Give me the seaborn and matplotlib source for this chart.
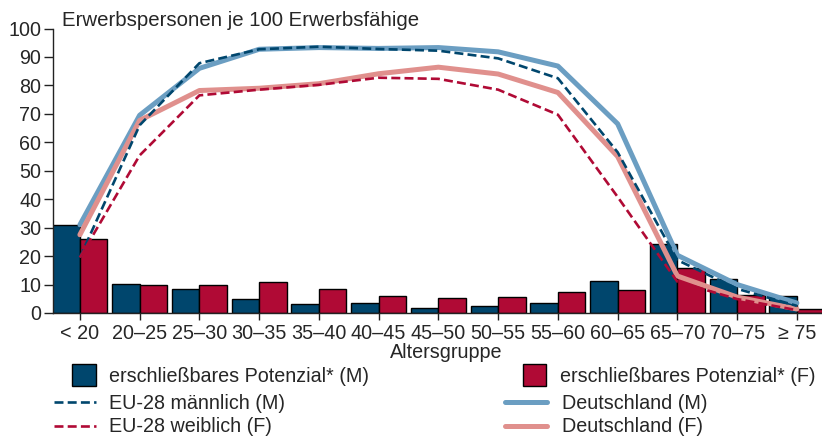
import numpy as np
import pandas as pd
import matplotlib
matplotlib.use("Agg")
import matplotlib.pyplot as plt
import seaborn as sns
from matplotlib import font_manager
from matplotlib.patches import Patch
from matplotlib.lines import Line2D

# ---------------- data ----------------
categories = ["< 20", "20–25", "25–30", "30–35", "35–40", "40–45", "45–50",
              "50–55", "55–60", "60–65", "65–70", "70–75", "≥ 75"]
potenzial_m = [31.0, 10.3, 8.5, 4.9, 3.2, 3.5, 1.9, 2.3, 3.5, 11.1, 24.1, 11.9, 6.1]
potenzial_f = [25.9, 9.8, 9.7, 11.0, 8.5, 6.1, 5.3, 5.7, 7.3, 8.2, 15.7, 6.2, 1.4]
deutschland_m = [31.0, 69.5, 86.0, 92.7, 93.3, 93.0, 93.3, 91.8, 86.8, 66.5, 20.3, 10.0, 3.5]
eu28_m = [19.5, 66.0, 87.8, 92.7, 93.6, 92.8, 92.2, 89.5, 82.5, 56.5, 18.6, 8.5, 2.5]
deutschland_f = [27.5, 67.7, 78.2, 79.0, 80.6, 84.1, 86.4, 84.0, 77.5, 55.0, 13.0, 5.6, 1.4]
eu28_f = [19.5, 55.4, 76.5, 78.5, 80.2, 82.7, 82.3, 78.5, 69.7, 40.8, 11.0, 4.9, 1.0]

title = "Erwerbspersonen je 100 Erwerbsfähige"
xlabel = "Altersgruppe"
lbl_pm = "erschließbares Potenzial* (M)"
lbl_pf = "erschließbares Potenzial* (F)"
lbl_eum = "EU-28 männlich (M)"
lbl_euf = "EU-28 weiblich (F)"
lbl_dem = "Deutschland (M)"
lbl_def = "Deutschland (F)"

# ---------------- style ----------------
C_NAVY = "#00466d"
C_RED = "#b00a35"
C_LBLUE = "#6b9ec2"
C_PINK = "#e0908d"

sns.set_theme(style="ticks")
avail = {f.name for f in font_manager.fontManager.ttflist}
fam = "DejaVu Sans"
for cand in ["Liberation Sans", "Arial", "Open Sans"]:
    if cand in avail:
        fam = cand
        break
plt.rcParams["font.family"] = [fam, "DejaVu Sans"]
FS = 14.2
DASH = (3.4, 1.6)
DLW = 1.9

W, H = 822, 437
fig = plt.figure(figsize=(W / 100, H / 100), dpi=100)
ax = fig.add_axes([53 / W, 1 - 313 / H, (W - 53) / W, (313 - 28.5) / H])

# bars
bars_df = pd.DataFrame({
    "cat": categories * 2,
    "val": potenzial_m + potenzial_f,
    "grp": ["M"] * len(categories) + ["F"] * len(categories),
})
sns.barplot(data=bars_df, x="cat", y="val", hue="grp", order=categories,
            hue_order=["M", "F"], palette={"M": C_NAVY, "F": C_RED},
            width=0.92, gap=0, edgecolor="black", linewidth=1.0,
            saturation=1, legend=False, ax=ax, zorder=2)

xpos = np.arange(len(categories))
sns.lineplot(x=xpos, y=deutschland_m, color=C_LBLUE, lw=3.6, ax=ax, zorder=3,
             solid_capstyle="round", solid_joinstyle="round")
sns.lineplot(x=xpos, y=deutschland_f, color=C_PINK, lw=3.6, ax=ax, zorder=3,
             solid_capstyle="round", solid_joinstyle="round")
ax.plot(xpos, eu28_m, color=C_NAVY, lw=DLW, dashes=DASH, zorder=4)
ax.plot(xpos, eu28_f, color=C_RED, lw=DLW, dashes=DASH, zorder=4)

ax.set_xlim(-0.45, 12.42)
ax.set_ylim(0, 100)
ax.set_yticks(np.arange(0, 101, 10))
ax.set_xticks(xpos)
ax.set_xticklabels(categories)
ax.tick_params(axis="y", labelsize=FS, length=6.5, width=1, color="#222222", pad=2)
ax.tick_params(axis="x", labelsize=FS, length=5, width=1, color="#222222", pad=3)
ax.set_xlabel("")
ax.set_ylabel("")
for s in ["top", "right"]:
    ax.spines[s].set_visible(False)
for s in ["left", "bottom"]:
    ax.spines[s].set_linewidth(1.0)
    ax.spines[s].set_color("#222222")
ax.set_facecolor("white")

fig.text(62 / W, 1 - 21 / H, title, fontsize=FS + 0.5, va="center", ha="left")
fig.text(446 / W, 1 - 353 / H, xlabel, fontsize=FS, va="center", ha="center")

# legends
em = FS * 100 / 72  # px per em


def leg(handles, labels, x, y, hl_px, hh_px, pad_px, spacing=0.2):
    lg = fig.legend(handles, labels, loc="center left",
                    bbox_to_anchor=(x / W, 1 - y / H), frameon=False,
                    borderpad=0, borderaxespad=0, fontsize=FS,
                    handlelength=hl_px / em, handleheight=hh_px / em,
                    handletextpad=pad_px / em, labelspacing=spacing)
    return lg


ph_m = Patch(facecolor=C_NAVY, edgecolor="black", linewidth=1.0)
ph_f = Patch(facecolor=C_RED, edgecolor="black", linewidth=1.0)
lh_eum = Line2D([], [], color=C_NAVY, lw=DLW, dashes=DASH)
lh_euf = Line2D([], [], color=C_RED, lw=DLW, dashes=DASH)
lh_dem = Line2D([], [], color=C_LBLUE, lw=3.6, solid_capstyle="round")
lh_def = Line2D([], [], color=C_PINK, lw=3.6, solid_capstyle="round")

leg([ph_m], [lbl_pm], 72, 375, 24, 25, 13)
leg([ph_f], [lbl_pf], 523, 375, 23, 25, 14)
leg([lh_eum, lh_euf], [lbl_eum, lbl_euf], 54, 415, 42, 10, 13, spacing=0.25)
leg([lh_dem, lh_def], [lbl_dem, lbl_def], 505, 415, 42, 10, 15, spacing=0.25)

fig.savefig("out.png", dpi=100, facecolor="white")
